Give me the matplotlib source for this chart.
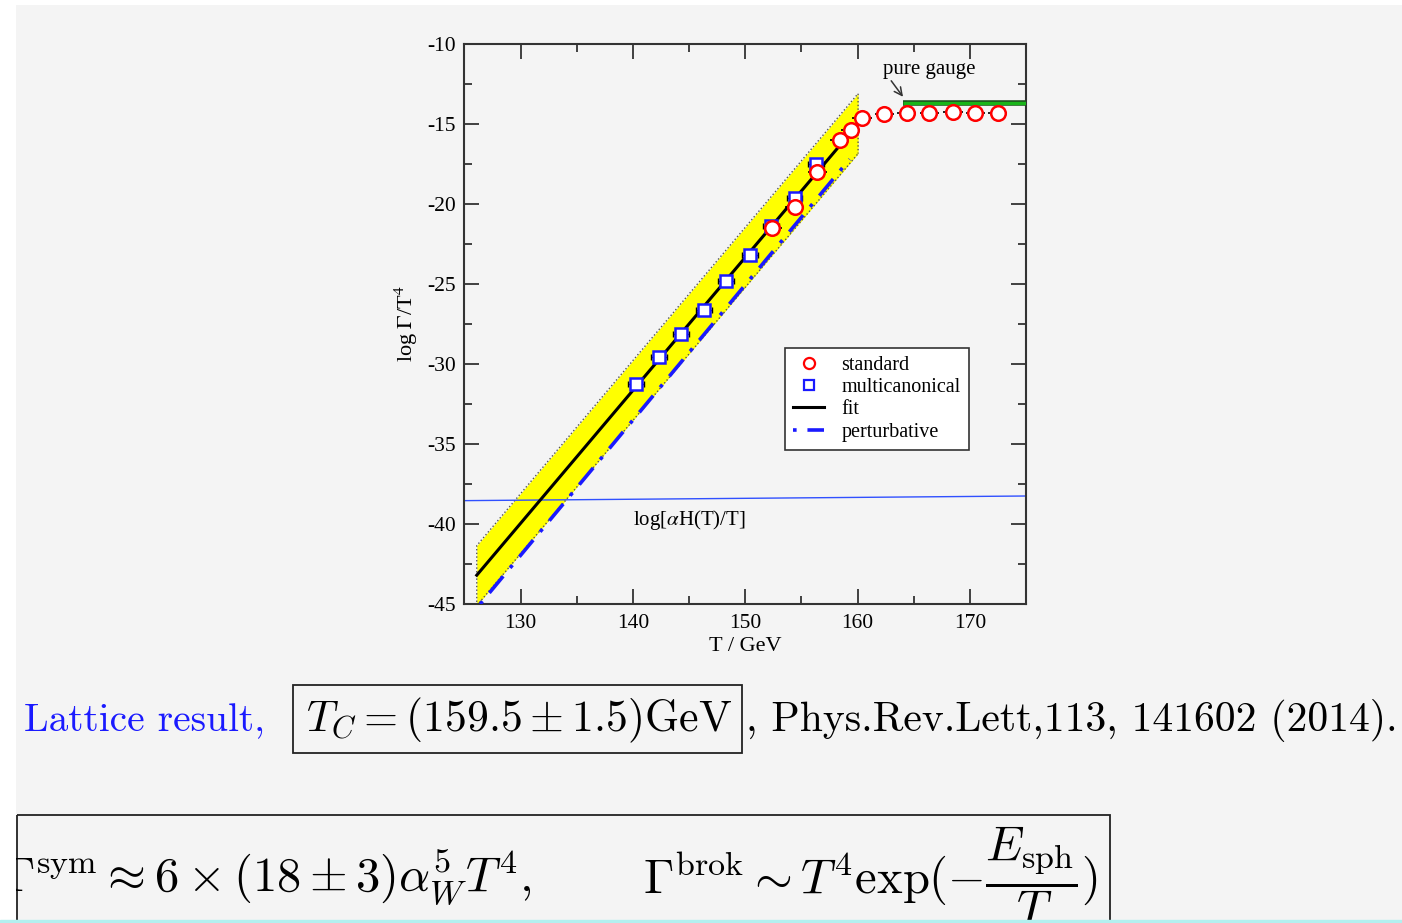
import matplotlib.pyplot as plt
import matplotlib.patches as mpatches
from matplotlib.lines import Line2D

# %%
# data
T_std = [152.4, 154.4, 156.4, 158.4, 159.4, 160.4, 162.4, 164.4, 166.4, 168.5, 170.5, 172.5]
y_std = [-21.5, -20.2, -18.0, -16.0, -15.4, -14.6, -14.4, -14.3, -14.3, -14.25, -14.3, -14.3]

T_mc = [140.3, 142.3, 144.3, 146.3, 148.3, 150.4, 152.3, 154.4, 156.3]
y_mc = [-31.25, -29.55, -28.1, -26.6, -24.8, -23.2, -21.4, -19.6, -17.5]

T_fit = [126.1, 160.1]
y_fit = [-43.2, -14.95]

T_band = [126.1, 160.05]
band_up = [-41.35, -13.1]
band_lo = [-45.1, -16.85]

T_pert = [126.4, 159.3]
y_pert = [-45.0, -17.2]

T_hub = [125, 175]
y_hub = [-38.54, -38.25]

T_pg = [164.05, 175]
y_pg = [-13.67, -13.67]

x_ticks = [130, 140, 150, 160, 170]
x_ticklabels = ['130', '140', '150', '160', '170']
y_ticks = [-45, -40, -35, -30, -25, -20, -15, -10]
y_ticklabels = ['-45', '-40', '-35', '-30', '-25', '-20', '-15', '-10']

serif = 'Liberation Serif'
fs = 14.5

# %%
fig = plt.figure(figsize=(14.02, 9.23), dpi=100)
fig.patch.set_facecolor('white')

# slide background (pixel coordinates)
slide = fig.add_axes([16 / 1402, 3 / 923, 1386 / 1402, 915 / 923])
slide.set_facecolor('#f4f4f4')
slide.set_xlim(16, 1402)
slide.set_ylim(920, 5)
slide.set_xticks([])
slide.set_yticks([])
for s in slide.spines.values():
    s.set_visible(False)

# cyan strip at the very bottom
fig.patches.append(mpatches.Rectangle((0, 0), 1, 3 / 923, transform=fig.transFigure,
                                      color='#b3efef', zorder=0))

# %%
ax = fig.add_axes([464.4 / 1402, (923 - 604) / 923, 561.6 / 1402, 560 / 923])
ax.set_facecolor('none')
ax.set_zorder(2)

# error band
ax.fill_between(T_band, band_lo, band_up, color='#ffff00', lw=0, zorder=1)
ax.plot([T_band[0], T_band[0], T_band[1], T_band[1]],
        [band_lo[0], band_up[0], band_up[1], band_lo[1]],
        ls=':', color='#555555', lw=1, zorder=2)
ax.plot(T_band, band_lo, ls=':', color='#555555', lw=1, zorder=2)

ax.plot(T_fit, y_fit, color='black', lw=2.2, zorder=3)
ax.plot(T_pert, y_pert, color='#1a1aff', lw=2.6, ls=(0, (1, 3, 6, 3)), zorder=3)
ax.plot(T_hub, y_hub, color='#3050ff', lw=1, zorder=2)

# pure gauge line
ax.plot(T_pg, y_pg, color='#1d4d1d', lw=4, zorder=3, solid_capstyle='butt')
ax.plot(T_pg, y_pg, color='#19b519', lw=2.4, zorder=4, solid_capstyle='butt')

# data points
ax.errorbar(T_mc, y_mc, xerr=0.7, fmt='none', ecolor='black', elinewidth=1,
            capsize=2, zorder=4)
ax.plot(T_mc, y_mc, ls='none', marker='s', ms=8.5, mfc='white', mec='#1a1aff',
        mew=1.8, zorder=5)
ax.errorbar(T_std, y_std, xerr=0.85, fmt='none', ecolor='black', elinewidth=1.2,
            zorder=5)
ax.plot(T_std, y_std, ls='none', marker='o', ms=10.5, mfc='white', mec='#ff0000',
        mew=1.8, zorder=6)

# annotations
ax.text(145.0, -39.75, r'log[$\alpha$H(T)/T]', family=serif, fontsize=15,
        ha='center', va='center', math_fontfamily='stix')
ax.text(166.4, -11.6, 'pure gauge', family=serif, fontsize=15, ha='center', va='center')
ax.annotate('', xy=(164.05, -13.3), xytext=(163.0, -12.3),
            arrowprops=dict(arrowstyle='->', color='#333333', lw=1.1,
                            mutation_scale=14, shrinkA=0, shrinkB=0))

ax.set_xlim(125, 175)
ax.set_ylim(-45, -10)
ax.set_xticks(x_ticks)
ax.set_xticklabels(x_ticklabels, family=serif, fontsize=15.5)
ax.set_yticks(y_ticks)
ax.set_yticklabels(y_ticklabels, family=serif, fontsize=15.5)
ax.set_xticks([125, 135, 145, 155, 165, 175], minor=True)
ax.set_yticks([-42.5, -37.5, -32.5, -27.5, -22.5, -17.5, -12.5], minor=True)
ax.tick_params(which='both', direction='in', top=True, right=True, width=1.3,
               color='#333333')
ax.tick_params(axis='x', which='both', pad=7)
ax.tick_params(axis='y', which='both', pad=6)
ax.tick_params(which='major', length=11)
ax.tick_params(which='minor', length=6)
for s in ax.spines.values():
    s.set_linewidth(1.5)
    s.set_color('#333333')

ax.set_xlabel('T / GeV', family=serif, fontsize=16, labelpad=3)
ax.set_ylabel(r'log $\Gamma$/T$^4$', family=serif, fontsize=16, labelpad=5,
              math_fontfamily='stix')

handles = [
    Line2D([], [], ls='none', marker='o', ms=8, mfc='none', mec='#ff0000', mew=1.6),
    Line2D([], [], ls='none', marker='s', ms=7, mfc='none', mec='#1a1aff', mew=1.6),
    Line2D([], [], color='black', lw=2.2),
    Line2D([], [], color='#1a1aff', lw=2.6, ls=(0, (1, 3, 6, 3))),
]
leg = ax.legend(handles, ['standard', 'multicanonical', 'fit', 'perturbative'],
                loc='upper left', bbox_to_anchor=(0.571, 0.457), borderaxespad=0,
                prop={'family': serif, 'size': fs}, fancybox=False, framealpha=1,
                edgecolor='#333333', handlelength=1.55, handletextpad=0.85,
                labelspacing=0.15, borderpad=0.4)
leg.get_frame().set_linewidth(1.2)
leg.set_zorder(10)

# %%
# slide text below the plot
cm = dict(math_fontfamily='cm', clip_on=True, va='baseline')
slide.text(24, 731, 'Lattice result,', family='cmr10', fontsize=28.3, color='#1a1aff',
           clip_on=True, va='baseline')
slide.text(306, 731, r'$T_C = (159.5 \pm 1.5)\mathrm{GeV}$', fontsize=31.5, **cm)
slide.text(746, 731, ', Phys.Rev.Lett,113, 141602 (2014).', family='cmr10',
           fontsize=30.0, clip_on=True, va='baseline')
slide.add_patch(mpatches.Rectangle((293, 685), 449, 68, fill=False, ec='#222222', lw=1.3))

slide.text(4, 893, r'$\Gamma^{\mathrm{sym}} \approx 6 \times (18 \pm 3)\alpha_W^5 T^4,$',
           fontsize=35, **cm)
slide.text(643, 893, r'$\Gamma^{\mathrm{brok}} \sim T^4 \mathrm{exp}(-\dfrac{E_{\mathrm{sph}}}{T})$',
           fontsize=35, **cm)
slide.add_patch(mpatches.Rectangle((17, 815), 1093, 200, fill=False, ec='#222222',
                                   lw=1.3, clip_on=True))

plt.savefig('out.png', dpi=100)
